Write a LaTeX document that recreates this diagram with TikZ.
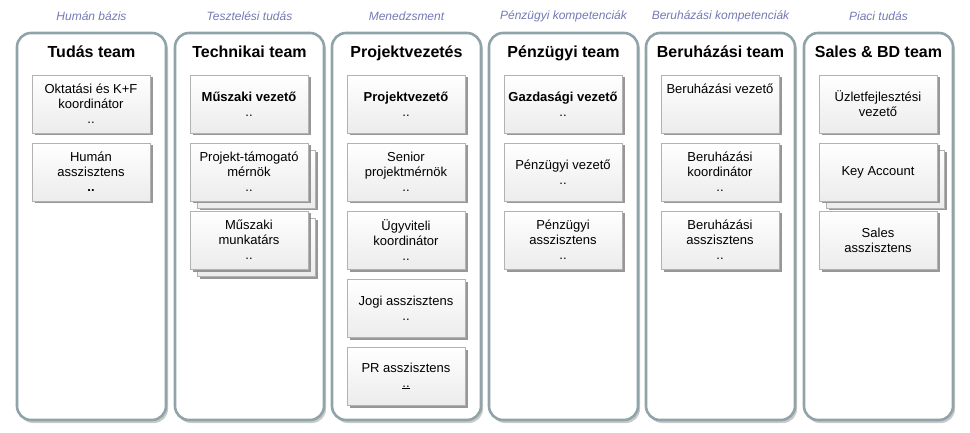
\documentclass[tikz,border=0pt]{standalone}
\usepackage{fontspec}
\setmainfont{Liberation Sans}
\usetikzlibrary{shadows}
\definecolor{frame}{HTML}{8FA3A8}
\definecolor{lab}{HTML}{7479B4}
\begin{document}
\begin{tikzpicture}[x=1pt,y=-1pt,
  col/.style={draw=frame,line width=2.6pt,rounded corners=14pt,fill=white,
    drop shadow={shadow xshift=2pt,shadow yshift=-3pt,fill=gray!70,opacity=.6}},
  lbl/.style={font=\fontsize{12}{14}\selectfont\itshape,text=lab},
  hdr/.style={font=\fontsize{16}{18}\selectfont\bfseries,text height=12pt,text depth=3pt},
  bx/.style={draw=gray!60,line width=.5pt,top color=white,bottom color=gray!15,
    minimum width=118pt,minimum height=58pt,align=center,inner sep=1pt,
    font=\fontsize{13}{15}\selectfont,
    drop shadow={shadow xshift=2.5pt,shadow yshift=-2.5pt,fill=gray!90,opacity=.9}}]
\useasboundingbox (0,0) rectangle (970,433);
\foreach \x/\l/\h/\n in {17/Humán bázis/Tudás team/c1,175/Tesztelési tudás/Technikai team/c2,332/Menedzsment/Projektvezetés/c3,489/Pénzügyi kompetenciák/Pénzügyi team/c4,646/Beruházási kompetenciák/Beruházási team/c5,804/Piaci tudás/Sales \& BD team/c6}{
  \draw[col] (\x,33) rectangle (\x+149,420);
  \node[lbl] (l\n) at (\x+74.5,16) {\l};
  \node[hdr] (h\n) at (\x+74.5,53) {\h};
}
% column 1
\node[bx] (a1) at (91,104) {Oktatási és K+F\\koordinátor\\..};
\node[bx] (a2) at (91,172) {Humán\\asszisztens\\\textbf{..}};
% column 2
\node[bx] (b1) at (249,104) {\textbf{Műszaki vezető}\\..};
\node[bx] (b2s) at (256,179) {};
\node[bx] (b2) at (249,172) {Projekt-támogató\\mérnök\\..};
\node[bx] (b3s) at (256,247) {};
\node[bx] (b3) at (249,240) {Műszaki\\munkatárs\\..};
% column 3
\node[bx] (p1) at (406,104) {\textbf{Projektvezető}\\..};
\node[bx] (p2) at (406,172) {Senior\\projektmérnök\\..};
\node[bx] (p3) at (406,240) {Ügyviteli\\koordinátor\\..};
\node[bx] (p4) at (406,308) {Jogi asszisztens\\..};
\node[bx] (p5) at (406,376) {PR asszisztens\\\underline{..}};
% column 4
\node[bx] (f1) at (563,104) {\textbf{Gazdasági vezető}\\..};
\node[bx] (f2) at (563,172) {Pénzügyi vezető\\..};
\node[bx] (f3) at (563,240) {Pénzügyi\\asszisztens\\..};
% column 5
\node[bx] (r1) at (720,104) {Beruházási vezető\\[15pt]};
\node[bx] (r2) at (720,172) {Beruházási\\koordinátor\\..};
\node[bx] (r3) at (720,240) {Beruházási\\asszisztens\\..};
% column 6
\node[bx] (s1) at (878,104) {Üzletfejlesztési\\vezető};
\node[bx] (s2s) at (885,179) {};
\node[bx] (s2) at (878,172) {Key Account};
\node[bx] (s3) at (878,240) {Sales\\asszisztens};
\end{tikzpicture}
\end{document}
